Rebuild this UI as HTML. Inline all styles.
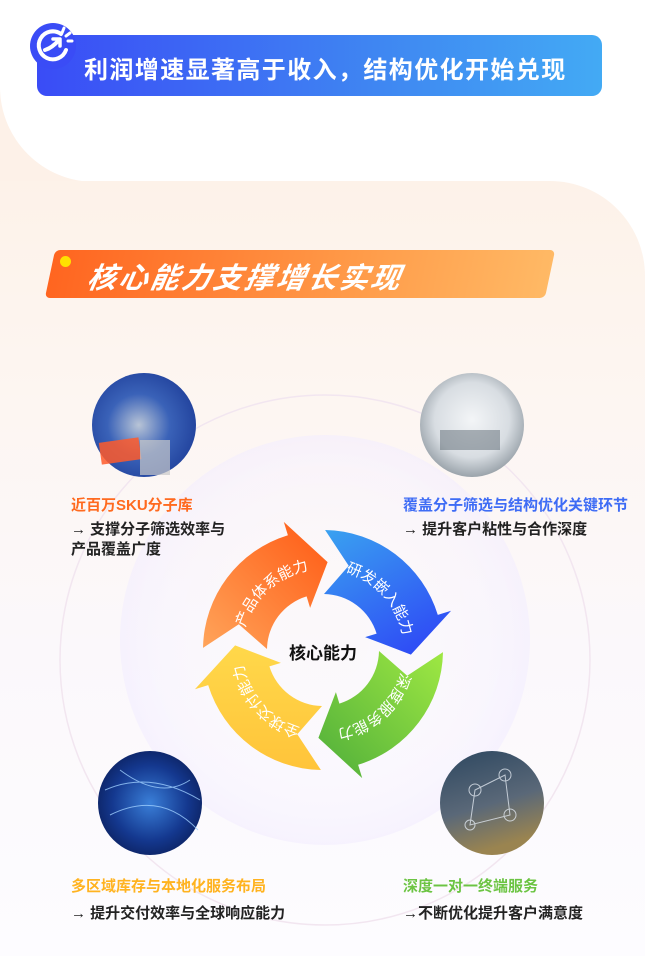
<!DOCTYPE html>
<html><head><meta charset="utf-8">
<style>
*{margin:0;padding:0;box-sizing:border-box}
body{width:645px;height:956px;position:relative;overflow:hidden;background:#fff;font-family:"Liberation Sans","Noto Sans CJK SC",sans-serif}
.abs{position:absolute}
.t{position:absolute;font-weight:bold;font-size:15px;white-space:nowrap;color:#222}
</style></head><body>
<div class="abs" style="left:0;top:90px;width:250px;height:120px;background:#fdf1e8"></div>
<div class="abs" style="left:0;top:0;width:645px;height:182px;background:#fff;border-bottom-left-radius:95px"></div>
<div class="abs" style="left:0;top:181px;width:645px;height:775px;border-top-right-radius:95px;background:linear-gradient(180deg,#fdf2e9 0%,#fdf6f2 30%,#fbf8fb 60%,#fdfcff 100%)"></div>

<div class="abs" style="left:37px;top:35px;width:565px;height:61px;border-radius:10px;background:linear-gradient(90deg,#3a4cf6,#3f86f2 60%,#43aaf4)"></div>
<div class="abs" style="left:84px;top:50px;color:#fff;font-size:24px;font-weight:bold;letter-spacing:1.4px;white-space:nowrap">利润增速显著高于收入，结构优化开始兑现</div>
<svg class="abs" style="left:28px;top:20px" width="52" height="52" viewBox="0 0 52 52">
<circle cx="25" cy="26" r="23" fill="#3a4cf6"/>
<path d="M33 14 A14 14 0 1 0 38 30" fill="none" stroke="#fff" stroke-width="4" stroke-linecap="round"/>
<path d="M17 30 Q24 28 31 20" fill="none" stroke="#fff" stroke-width="4" stroke-linecap="round"/>
<path d="M25 19 L32 19 L32 26" fill="none" stroke="#fff" stroke-width="3.5" stroke-linecap="round" stroke-linejoin="round"/>
<path d="M36 8 L34 13 M42 13 L38 16 M44 21 L40 21" stroke="#fff" stroke-width="3" stroke-linecap="round"/>
</svg>

<div class="abs" style="left:50px;top:250px;width:500px;height:48px;transform:skewX(-12deg);border-radius:5px;background:linear-gradient(90deg,#ff6520,#ff9a48 60%,#ffb965)"></div>
<div class="abs" style="left:60px;top:256px;width:11px;height:11px;border-radius:50%;background:#ffe100"></div>
<div class="abs" style="left:88px;top:255px;color:#fff;font-size:29px;font-weight:bold;font-style:italic;letter-spacing:2.5px;white-space:nowrap;transform:skewX(-10deg)">核心能力支撑增长实现</div>

<svg class="abs" style="left:0;top:0" width="645" height="956">
<defs>
<radialGradient id="dk" cx="50%" cy="50%" r="50%"><stop offset="0" stop-color="#fff" stop-opacity="0"/><stop offset="0.85" stop-color="#f6f2ff" stop-opacity="0.5"/><stop offset="1" stop-color="#f2ecff" stop-opacity="0.55"/></radialGradient>
<linearGradient id="gO" x1="0" y1="1" x2="1" y2="0"><stop offset="0" stop-color="#ffa45a"/><stop offset="1" stop-color="#ff5a14"/></linearGradient>
<linearGradient id="gB" x1="0" y1="0" x2="0.6" y2="1"><stop offset="0" stop-color="#3aa2f0"/><stop offset="1" stop-color="#2f4ff5"/></linearGradient>
<linearGradient id="gG" x1="1" y1="0" x2="0" y2="1"><stop offset="0" stop-color="#9fe843"/><stop offset="1" stop-color="#4fae3a"/></linearGradient>
<linearGradient id="gY" x1="0" y1="1" x2="0" y2="0"><stop offset="0" stop-color="#ffc43a"/><stop offset="1" stop-color="#ffd84a"/></linearGradient>
<radialGradient id="p1" cx="45%" cy="50%" r="60%"><stop offset="0" stop-color="#b8c4d6"/><stop offset="0.5" stop-color="#3a62b8"/><stop offset="1" stop-color="#1f3f9a"/></radialGradient>
<radialGradient id="p2" cx="50%" cy="45%" r="60%"><stop offset="0" stop-color="#f3f5f7"/><stop offset="0.6" stop-color="#d8dde2"/><stop offset="1" stop-color="#8a949c"/></radialGradient>
<radialGradient id="p3" cx="50%" cy="50%" r="60%"><stop offset="0" stop-color="#3a7fd8"/><stop offset="0.6" stop-color="#14388f"/><stop offset="1" stop-color="#0a1c55"/></radialGradient>
<linearGradient id="p4" x1="0" y1="0" x2="0.3" y2="1"><stop offset="0" stop-color="#2d4760"/><stop offset="0.6" stop-color="#5a6878"/><stop offset="1" stop-color="#9a8450"/></linearGradient>
</defs>
<circle cx="325" cy="660" r="265" fill="none" stroke="#f2e6f0" stroke-width="1.5"/>
<circle cx="325" cy="640" r="205" fill="url(#dk)"/>

<circle cx="144" cy="425" r="52" fill="url(#p1)"/>
<rect x="100" y="440" width="40" height="22" fill="#ff5a2a" opacity="0.85" transform="rotate(-8 120 450)"/>
<rect x="140" y="440" width="30" height="35" fill="#c9c9c9" opacity="0.7"/>
<circle cx="472" cy="425" r="52" fill="url(#p2)"/>
<rect x="440" y="430" width="60" height="20" fill="#5e6a74" opacity="0.5"/>
<circle cx="150" cy="803" r="52" fill="url(#p3)"/>
<path d="M105 790 Q150 770 200 800 M110 815 Q160 790 198 830 M120 770 Q160 800 190 780" stroke="#9fd0ff" stroke-width="1" fill="none" opacity="0.8"/>
<circle cx="492" cy="803" r="52" fill="url(#p4)"/>
<g stroke="#dfe6ee" stroke-width="1" fill="none" opacity="0.8"><circle cx="475" cy="790" r="6"/><circle cx="505" cy="775" r="6"/><circle cx="470" cy="825" r="5"/><circle cx="510" cy="815" r="6"/><path d="M475 790 L505 775 L510 815 L470 825 Z"/></g>

<g id="cyc"></g>
<text x="323" y="659" text-anchor="middle" font-size="17" font-weight="bold" fill="#111" font-family="Liberation Sans, Noto Sans CJK SC, sans-serif">核心能力</text>
</svg>

<div class="t" style="left:71px;top:494px;color:#ff6a1f">近百万SKU分子库</div>
<div class="t" style="left:71px;top:518px">→ 支撑分子筛选效率与</div>
<div class="t" style="left:71px;top:538px">产品覆盖广度</div>
<div class="t" style="left:403px;top:494px;color:#3e6cf5">覆盖分子筛选与结构优化关键环节</div>
<div class="t" style="left:403px;top:518px">→ 提升客户粘性与合作深度</div>
<div class="t" style="left:71px;top:875px;color:#ffb320">多区域库存与本地化服务布局</div>
<div class="t" style="left:71px;top:902px">→ 提升交付效率与全球响应能力</div>
<div class="t" style="left:403px;top:875px;color:#6cc443">深度一对一终端服务</div>
<div class="t" style="left:403px;top:902px">→不断优化提升客户满意度</div>

<script>
(function(){
var cx=323,cy=650,ri=56,ro=120,hi=44,ho=134,rm=88;
function P(r,a){a=a*Math.PI/180;return (cx+r*Math.cos(a)).toFixed(1)+" "+(cy+r*Math.sin(a)).toFixed(1);}
var cols=["url(#gO)","url(#gB)","url(#gG)","url(#gY)"];
var txt=["产品体系能力","研发嵌入能力","深度服务能力","全球交付能力"];
var s="",t="";
for(var i=0;i<4;i++){
 var a0=180+90*i+1,a1=a0+72,at=a0+92;
 var d="M"+P(ro,a0)+" A"+ro+" "+ro+" 0 0 1 "+P(ro,a1)+" L"+P(ho,a1)+" L"+P(rm,at)+" L"+P(hi,a1)+" L"+P(ri,a1)+" A"+ri+" "+ri+" 0 0 0 "+P(ri,a0)+" L"+P(rm,a0+16)+" Z";
 s+='<path d="'+d+'" fill="'+cols[i]+'"/>';
 s+='<path id="tp'+i+'" d="M'+P(rm-7,a0+8)+' A'+(rm-7)+' '+(rm-7)+' 0 0 1 '+P(rm-7,a1+14)+'" fill="none"/>';
 t+='<text font-size="15" fill="#fff" font-family="Liberation Sans, Noto Sans CJK SC, sans-serif"><textPath href="#tp'+i+'" startOffset="50%" text-anchor="middle">'+txt[i]+'</textPath></text>';
}
document.getElementById("cyc").innerHTML=s+t;
})();
</script>
</body></html>
